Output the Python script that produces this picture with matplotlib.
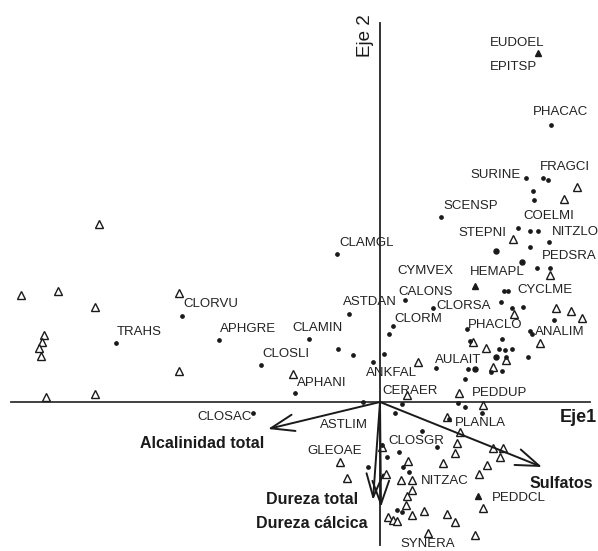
import matplotlib
matplotlib.use("Agg")
import matplotlib.pyplot as plt

plt.rcParams['font.family'] = ['Liberation Sans', 'DejaVu Sans']

# Site scores (open triangles)
site_x = [-2.81, -3.59, -3.22, -2.85, -2.01, -3.36, -3.38, -3.41, -3.39, -2.01, -3.34, -2.85, -0.87,
          1.97, 1.84, 1.33, 1.70, 1.76, 1.91, 2.02, 1.34, 1.60, 0.93, 1.06, 1.26, 0.38, 1.13, 0.27, 0.79, 1.03,
          0.67, 0.80, 0.77, 0.75, 1.13, 1.23, 1.20, 1.07, 0.99, 0.02, 0.28, 0.06, 0.21, 0.32, 0.32, 0.27,
          0.26, 0.32, 0.44, 0.08, 0.13, 0.17, 0.48, 0.67, 0.75, 0.95, 0.63, 1.03, -0.40, -0.33]
site_y = [1.78, 1.07, 1.11, 0.95, 1.09, 0.67, 0.60, 0.54, 0.46, 0.31, 0.05, 0.08, 0.28,
          2.15, 2.03, 1.63, 1.27, 0.94, 0.91, 0.84, 0.88, 0.59, 0.60, 0.54, 0.42, 0.40, 0.35, 0.07, 0.09, -0.03,
          -0.15, -0.30, -0.41, -0.51, -0.46, -0.46, -0.55, -0.63, -0.72, -0.45, -0.59, -0.72, -0.78, -0.78, -0.88, -0.94,
          -1.03, -1.13, -1.09, -1.15, -1.18, -1.19, -1.31, -1.12, -1.20, -1.33, -0.61, -1.06, -0.60, -0.76]

# Species scores (small dots)
sp_x = [-1.98, -2.64, -1.61, -1.19, -0.85, -0.71, -0.43, -0.31, -0.42, -0.27, 0.04, -0.07, 0.09, 0.13, 0.25,
        -1.27, -0.17, 1.71, 1.46, 1.63, 1.68, 1.53, 1.54, 0.61, 1.38, 1.50, 1.58, 1.69, 1.50, 1.57, 1.70,
        1.24, 1.28, 1.21, 1.32, 1.43, 1.74, 0.53, 0.87, 1.50, 1.52, 1.22, 0.90, 1.19, 1.25, 1.32, 1.26, 1.48,
        0.56, 0.88, 1.11, 1.22, 0.85, 0.78, 0.85, 1.02, 0.22, 0.15, 0.69, 0.42, 0.57, 0.02, 0.07, 0.19, 0.23,
        0.29, -0.12, 0.17, 0.22]
sp_y = [0.86, 0.59, 0.62, 0.37, 0.09, 0.63, 1.48, 0.88, 0.53, 0.47, 0.48, 0.40, 0.68, 0.76, 1.02,
        -0.11, 0.00, 2.77, 2.24, 2.24, 2.22, 2.11, 2.02, 1.85, 1.74, 1.71, 1.71, 1.60, 1.55, 1.34, 1.34,
        1.11, 1.11, 1.00, 0.94, 0.95, 0.82, 0.94, 0.73, 0.71, 0.68, 0.63, 0.61, 0.53, 0.52, 0.53, 0.45, 0.45,
        0.34, 0.33, 0.30, 0.31, 0.23, -0.01, -0.05, -0.11, -0.02, -0.11, -0.17, -0.29, -0.45, -0.43, -0.55, -0.50, -0.65,
        -0.70, -0.65, -1.08, -1.10]

# Larger species dots
big_x = [1.16, 1.42, 1.16, 0.95]
big_y = [1.51, 1.40, 0.45, 0.33]

# Filled triangle species
ftri_x = [1.58, 0.95, 0.98]
ftri_y = [3.49, 1.16, -0.94]

# Species labels
lab_text = ['CLORVU', 'TRAHS', 'APHGRE', 'CLOSLI', 'APHANI', 'CLAMIN', 'CLAMGL', 'ASTDAN', 'CYMVEX',
            'CALONS', 'CLORM', 'CLORSA', 'HEMAPL', 'CYCLME', 'PHACLO', 'ANALIM', 'AULAIT', 'ANKFAL',
            'CERAER', 'PEDDUP', 'SCENSP', 'STEPNI', 'COELMI', 'NITZLO', 'PEDSRA', 'SURINE', 'FRAGCI',
            'PHACAC', 'EUDOEL', 'EPITSP', 'CLOSAC', 'ASTLIM', 'GLEOAE', 'CLOSGR', 'PLANLA', 'NITZAC',
            'PEDDCL', 'SYNERA']
lab_x = [-1.97, -2.63, -1.60, -1.18, -0.83, -0.88, -0.41, -0.37, 0.17, 0.18, 0.14, 0.56, 0.90, 1.37,
         0.88, 1.55, 0.55, -0.14, 0.02, 0.92, 0.63, 0.78, 1.43, 1.72, 1.62, 0.90, 1.60, 1.53, 1.10, 1.10,
         -1.83, -0.60, -0.73, 0.08, 0.75, 0.41, 1.12, 0.20]
lab_y = [0.98, 0.70, 0.73, 0.48, 0.19, 0.74, 1.59, 1.00, 1.31, 1.10, 0.83, 0.96, 1.30, 1.12, 0.77, 0.70,
         0.42, 0.29, 0.11, 0.09, 1.96, 1.69, 1.86, 1.70, 1.46, 2.27, 2.35, 2.90, 3.59, 3.35, -0.15, -0.23,
         -0.49, -0.39, -0.21, -0.79, -0.96, -1.42]

# Environmental variables (biplot arrows)
env_names = ['Alcalinidad total', 'Sulfatos', 'Dureza total', 'Dureza cálcica']
env_x = [-1.12, 1.62, -0.07, 0.01]
env_y = [-0.27, -0.65, -0.98, -1.05]
env_lab_x = [-1.78, 1.81, -0.22, -0.12]
env_lab_y = [-0.41, -0.81, -0.97, -1.21]
env_ha = ['center', 'center', 'right', 'right']

fig = plt.figure(figsize=(5.98, 5.51), dpi=100)
ax = fig.add_axes([0, 0, 1, 1])
ax.set_xlim(-3.80, 2.18)
ax.set_ylim(-1.49, 4.02)
ax.axis('off')

ink = '#1a1a1a'
# Axes lines
ax.plot([-3.69, 2.10], [0, 0], color='#333333', lw=1.3, zorder=1)
ax.plot([0, 0], [-1.43, 3.79], color='#222222', lw=1.3, zorder=1)

ax.plot(site_x, site_y, linestyle='none', marker='^', markersize=6, markerfacecolor='white',
        markeredgecolor=ink, markeredgewidth=1.0, zorder=3)
ax.plot(sp_x, sp_y, linestyle='none', marker='o', markersize=2.4, color=ink, zorder=4)
ax.plot(big_x, big_y, linestyle='none', marker='o', markersize=3.6, color=ink, zorder=4)
ax.plot(ftri_x, ftri_y, linestyle='none', marker='^', markersize=4.5, color=ink, zorder=4)

for t, x, y in zip(lab_text, lab_x, lab_y):
    ax.text(x, y, t, fontsize=9.5, ha='left', va='center', color='#222222', zorder=5)

for name, x, y, lx, ly, ha in zip(env_names, env_x, env_y, env_lab_x, env_lab_y, env_ha):
    ax.annotate('', xy=(x, y), xytext=(0, 0),
                arrowprops=dict(arrowstyle='->,head_length=1.4,head_width=0.5', lw=1.4,
                                color=ink, shrinkA=0, shrinkB=0, mutation_scale=12), zorder=6)
    ax.text(lx, ly, name, fontsize=11.5, fontweight='bold', ha=ha, va='center', color=ink, zorder=7)

ax.text(1.80, -0.15, 'Eje1', fontsize=13, fontweight='bold', ha='left', va='center', color=ink)
ax.text(-0.14, 3.66, 'Eje 2', fontsize=13.5, rotation=90, ha='center', va='center', color=ink)

fig.savefig('out.png', dpi=100)
